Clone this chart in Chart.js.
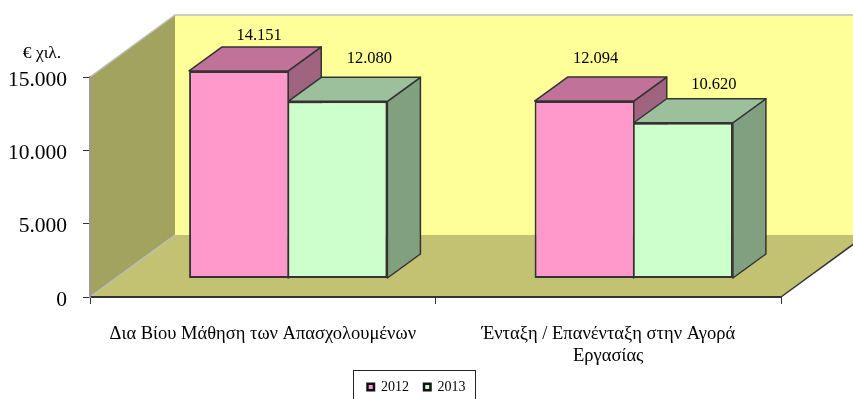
<!DOCTYPE html>
<html>
<head>
<meta charset="utf-8">
<style>
    html, body { margin: 0; padding: 0; background: #fff; overflow: hidden; }
    #chartBox { width: 853px; height: 399px; }
</style>
<script src="https://cdn.jsdelivr.net/npm/chart.js@4"></script>
</head>
<body>
<div id="chartBox"><canvas id="myChart"></canvas></div>
<script>
"use strict";

const CATEGORIES = ["Δια Βίου Μάθηση των Απασχολουμένων", ["Ένταξη / Επανένταξη στην Αγορά", "Εργασίας"]];
const YEARS = ["2012", "2013"];
const VALUES_2012 = [14151, 12094];
const VALUES_2013 = [12080, 10620];
const Y_TICKS = [0, 5000, 10000, 15000];
const UNIT = "€ χιλ.";

const FONT = "'Liberation Serif'";
const INK = "#333333";
const FRONT = ["#FF99CC", "#CCFFCC"];
const TOP = ["#C07299", "#9CC09C"];
const SIDE = ["#A06480", "#80A080"];

// depth of the room and of the bars
const WALL_DX = 85, WALL_DY = -62;
const BAR_DX = 33, BAR_DY = -24;
const BAR_SHIFT_X = 25.5, BAR_SHIFT_Y = -18.5;
// the labels were placed by hand in the original, [dx, dy] from the front top centre of each bar
const LABEL_SHIFT = [[[20.5, -35.5], [11.5, -42.5]], [[31.5, -42.5], [30.5, -38.5]]];

function fmt(n)
{
    return String(n).replace(/\B(?=(\d{3})+$)/g, ".");
}

function poly(ctx, pts, fill, stroke, width)
{
    ctx.beginPath();
    pts.forEach((p, i) => i ? ctx.lineTo(p[0], p[1]) : ctx.moveTo(p[0], p[1]));
    ctx.closePath();
    ctx.fillStyle = fill;
    ctx.fill();
    if (stroke) {
        ctx.strokeStyle = stroke;
        ctx.lineWidth = width;
        ctx.stroke();
    }
}

const room = {
    id: "room",
    afterLayout(chart) {
        // legend sits left of centre inside its own box
        const l = chart.legend;
        l.left = 316.5; l.right = 516.5; l.top = 365;
        // two line label would get clipped at the scale box otherwise
        chart.scales.x.bottom = chart.height;
    },
    afterUpdate(chart) {
        // serif digits sit high with a middle baseline, push the value ticks down a bit
        chart.scales.y.getLabelItems().forEach(it => { it.options.translation[1] += 3; });
    },
    beforeDraw(chart) {
        const ctx = chart.ctx;
        const a = chart.chartArea;
        const bx = a.left + WALL_DX;
        const by = a.bottom + WALL_DY;
        const ty = a.top + WALL_DY;
        ctx.save();
        poly(ctx, [[bx, ty], [a.right + WALL_DX, ty], [a.right + WALL_DX, by], [bx, by]], "#FFFF99");
        poly(ctx, [[a.left, a.top], [bx, ty], [bx, by], [a.left, a.bottom]], "#A3A360");
        poly(ctx, [[a.left, a.bottom], [bx, by], [a.right + WALL_DX, by], [a.right, a.bottom]], "#C2C272");
        ctx.strokeStyle = "#bdbdbd";
        ctx.lineWidth = 1.5;
        ctx.beginPath();
        ctx.moveTo(a.left, a.top);
        ctx.lineTo(bx, ty);
        ctx.lineTo(a.right + WALL_DX, ty);
        ctx.moveTo(a.left, a.bottom);
        ctx.lineTo(bx, by);
        ctx.stroke();
        ctx.strokeStyle = INK;
        ctx.lineWidth = 1.5;
        ctx.beginPath();
        ctx.moveTo(a.right, a.bottom);
        ctx.lineTo(a.right + WALL_DX, by);
        ctx.stroke();
        ctx.restore();
    },
    beforeDatasetsDraw(chart) {
        const ctx = chart.ctx;
        ctx.save();
        ctx.translate(BAR_SHIFT_X, BAR_SHIFT_Y);
        ctx.lineJoin = "round";
        CATEGORIES.forEach((c, j) => {
            YEARS.forEach((y, i) => {
                const b = chart.getDatasetMeta(i).data[j];
                const l = b.x - b.width / 2;
                const r = b.x + b.width / 2;
                poly(ctx, [[r, b.y], [r + BAR_DX, b.y + BAR_DY], [r + BAR_DX, b.base + BAR_DY], [r, b.base]], SIDE[i], INK, 1.5);
                poly(ctx, [[l, b.y], [l + BAR_DX, b.y + BAR_DY], [r + BAR_DX, b.y + BAR_DY], [r, b.y]], TOP[i], INK, 1.5);
            });
        });
    },
    afterDatasetsDraw(chart) {
        const ctx = chart.ctx;
        ctx.restore();
        ctx.save();
        ctx.fillStyle = "#000";
        ctx.textAlign = "center";
        ctx.textBaseline = "middle";
        ctx.font = "16.5px " + FONT;
        YEARS.forEach((y, i) => {
            chart.data.datasets[i].data.forEach((v, j) => {
                const b = chart.getDatasetMeta(i).data[j];
                ctx.fillText(fmt(v), b.x + BAR_SHIFT_X + LABEL_SHIFT[i][j][0], b.y + BAR_SHIFT_Y + LABEL_SHIFT[i][j][1]);
            });
        });
        ctx.font = "17.5px " + FONT;
        ctx.fillText(UNIT, 42, 53);
        ctx.restore();
    },
    afterDraw(chart) {
        // frame runs off the bottom of the picture
        const ctx = chart.ctx;
        ctx.save();
        ctx.strokeStyle = "#222";
        ctx.lineWidth = 1;
        ctx.strokeRect(353.5, 370.5, 122, 40);
        ctx.restore();
    }
};

function initChart()
{
    const config = {
        type: "bar",
        data: {
            labels: CATEGORIES,
            datasets: YEARS.map((y, i) => ({
                label: y,
                data: i === 0 ? VALUES_2012 : VALUES_2013,
                backgroundColor: FRONT[i],
                borderColor: INK,
                borderWidth: i === 0 ? { top: 2, left: 2, bottom: 2, right: 1 } : { top: 2, left: 1, bottom: 2, right: 2 },
                borderSkipped: false,
                clip: false,
                categoryPercentage: 0.574,
                barPercentage: 1
            }))
        },
        options: {
            responsive: false,
            animation: false,
            layout: { padding: { top: 77, right: 72, left: 0, bottom: 0 } },
            plugins: {
                tooltip: { enabled: false },
                legend: {
                    position: "bottom",
                    labels: {
                        generateLabels(chart) {
                            return YEARS.map((y, i) => ({
                                text: y,
                                fillStyle: FRONT[i],
                                strokeStyle: "#111",
                                lineWidth: 2.5,
                                fontColor: "#000",
                                datasetIndex: i
                            }));
                        },
                        boxWidth: 6.5,
                        boxHeight: 6.5,
                        padding: 15,
                        color: "#000",
                        font: { family: FONT, size: 14 }
                    }
                }
            },
            scales: {
                x: {
                    afterFit(s) { s.height = 102 - s.chart.legend.height; },
                    border: { color: INK, width: 2 },
                    grid: { drawOnChartArea: false, tickLength: 7, tickColor: INK },
                    ticks: {
                        color: "#000",
                        padding: 19.5,
                        maxRotation: 0,
                        minRotation: 0,
                        autoSkip: false,
                        font: { family: FONT, size: 18.5, lineHeight: 1.17 }
                    }
                },
                y: {
                    min: 0,
                    max: 15000,
                    afterFit(s) { s.width = 90; },
                    afterBuildTicks(s) { s.ticks = Y_TICKS.map(v => ({ value: v })); },
                    border: { color: "#9a9a9a", width: 2 },
                    grid: { drawOnChartArea: false, tickLength: 7, tickColor: INK },
                    ticks: {
                        color: "#000",
                        padding: 16,
                        callback: v => fmt(v),
                        font: { family: FONT, size: 21.5 }
                    }
                }
            }
        },
        plugins: [room]
    };

    const canvas = document.getElementById("myChart");
    canvas.width = 853;
    canvas.height = 399;
    return new Chart(canvas, config);
}

document.addEventListener("DOMContentLoaded", initChart);
</script>
</body>
</html>
